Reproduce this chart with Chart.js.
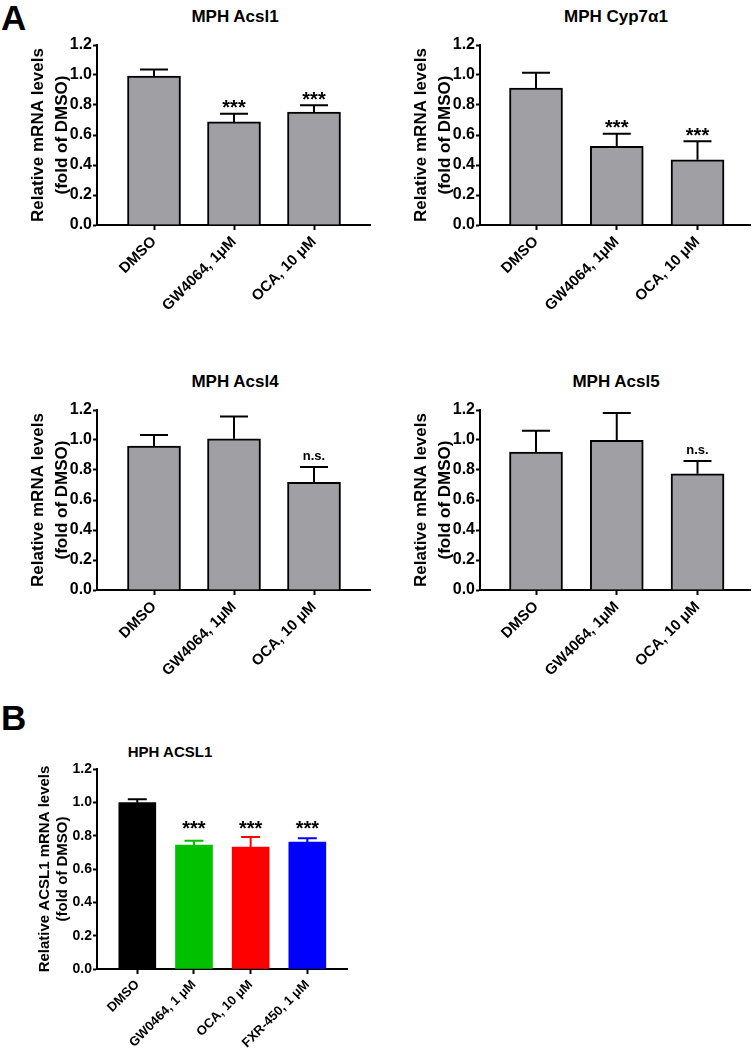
<!DOCTYPE html>
<html>
<head>
<meta charset="utf-8">
<script src="https://cdn.jsdelivr.net/npm/chart.js@4.4.1/dist/chart.umd.min.js"></script>
<style>
body{margin:0;background:#fff;}
#page{position:relative;width:752px;height:1050px;overflow:hidden;font-family:'Liberation Sans',Arial,sans-serif;color:#000;}
canvas{position:absolute;}
.ttl{position:absolute;transform:translate(-50%,-50%);font-weight:bold;white-space:nowrap;}
.panel{position:absolute;font-weight:bold;font-size:35px;line-height:1;}
</style>
</head>
<body>
<div id="page">
  <div class="panel" style="left:1px;top:0px">A</div>
  <div class="panel" style="left:1px;top:700px">B</div>
  <div class="ttl" style="left:235px;top:17px;font-size:17px">MPH Acsl1</div>
  <div class="ttl" style="left:616px;top:17px;font-size:17px">MPH Cyp7α1</div>
  <div class="ttl" style="left:235px;top:382px;font-size:17px">MPH Acsl4</div>
  <div class="ttl" style="left:616px;top:382px;font-size:17px">MPH Acsl5</div>
  <div class="ttl" style="left:170px;top:751px;font-size:15px">HPH ACSL1</div>
  <canvas id="acsl1" width="372" height="300" style="left:0;top:30px"></canvas>
  <canvas id="cyp7a1" width="369" height="300" style="left:383px;top:30px"></canvas>
  <canvas id="acsl4" width="372" height="300" style="left:0;top:395px"></canvas>
  <canvas id="acsl5" width="369" height="300" style="left:383px;top:395px"></canvas>
  <canvas id="hph" width="350" height="295" style="left:0;top:755px"></canvas>
</div>
<script>
// mouse primary hepatocytes (panel A)
const groupsA = ['DMSO', 'GW4064, 1μM', 'OCA, 10 μM'];
const acsl1Mean = [0.993, 0.687, 0.753];
const acsl1Err = [0.043, 0.055, 0.045];
const acsl1Sig = ['', '***', '***'];
const cyp7a1Mean = [0.913, 0.524, 0.435];
const cyp7a1Err = [0.102, 0.085, 0.123];
const cyp7a1Sig = ['', '***', '***'];
const acsl4Mean = [0.96, 1.008, 0.717];
const acsl4Err = [0.073, 0.149, 0.103];
const acsl4Sig = ['', '', 'n.s.'];
const acsl5Mean = [0.92, 0.997, 0.775];
const acsl5Err = [0.142, 0.183, 0.085];
const acsl5Sig = ['', '', 'n.s.'];

// human primary hepatocytes (panel B)
const groupsB = ['DMSO', 'GW0464, 1 μM', 'OCA, 10 μM', 'FXR-450, 1 μM'];
const hphMean = [0.998, 0.744, 0.732, 0.762];
const hphErr = [0.02, 0.026, 0.06, 0.022];
const hphSig = ['', '***', '***', '***'];

const yTicks = [0, 0.2, 0.4, 0.6, 0.8, 1.0, 1.2];

const FONT = "'Liberation Sans', Arial, sans-serif";
const GREY = '#a09fa4';

// upper error bars + significance marks
const errBars = {
  id: 'errbars',
  afterDatasetsDraw(chart, args, opts) {
    const {ctx} = chart;
    const x = chart.scales.x, y = chart.scales.y;
    const pts = chart.data.datasets[0].data;
    ctx.save();
    ctx.lineWidth = opts.lineWidth;
    ctx.lineCap = 'butt';
    pts.forEach((p, i) => {
      const px = x.getPixelForValue(p.x);
      const y0 = y.getPixelForValue(p.y);
      const y1 = y.getPixelForValue(p.y + opts.err[i]);
      ctx.strokeStyle = opts.colors[i];
      ctx.beginPath();
      ctx.moveTo(px, y0);
      ctx.lineTo(px, y1);
      ctx.moveTo(px - opts.cap / 2, y1);
      ctx.lineTo(px + opts.cap / 2, y1);
      ctx.stroke();

      const s = opts.sig[i];
      if (!s) return;
      const cy = opts.sigLevel != null ? y.getPixelForValue(opts.sigLevel) : y1 - opts.sigGap;
      ctx.fillStyle = '#000';
      ctx.textAlign = 'center';
      ctx.textBaseline = 'alphabetic';
      if (s === 'n.s.') {
        ctx.font = 'bold 13px ' + FONT;
        ctx.fillText(s, px, cy + 13 * 0.27);
      } else {
        ctx.font = 'bold 20px ' + FONT;
        ctx.fillText(s, px, cy + 20 * 0.575);
      }
    });
    ctx.restore();
  }
};

function makeChart(id, o) {
  const ctx = document.getElementById(id).getContext('2d');
  return new Chart(ctx, {
    type: 'bar',
    data: {
      datasets: [{
        data: o.mean.map((v, i) => ({x: i, y: v})),
        backgroundColor: o.fill,
        borderColor: o.border,
        borderWidth: o.borderWidth,
        barThickness: o.barW
      }]
    },
    options: {
      responsive: false,
      animation: false,
      devicePixelRatio: 1,
      layout: {padding: {top: o.padTop, right: o.padRight, left: 0, bottom: 0}},
      plugins: {
        legend: {display: false},
        tooltip: {enabled: false},
        errbars: {err: o.err, sig: o.sig, colors: o.errColors, cap: o.cap, lineWidth: 2,
                  sigGap: 11, sigLevel: o.sigLevel}
      },
      scales: {
        x: {
          type: 'linear', min: o.xMin, max: o.xMax, offset: false,
          afterBuildTicks: s => { s.ticks = o.labels.map((_, i) => ({value: i})); },
          afterFit: s => { s.height = o.xH; },
          border: {color: '#000', width: 2},
          grid: {offset: false, drawOnChartArea: false, drawTicks: true, tickLength: 5, tickColor: '#000', tickWidth: 2},
          ticks: {
            autoSkip: false, maxRotation: 45, minRotation: 45, padding: 3, color: '#000',
            font: {family: FONT, size: o.xTickSize, weight: 'bold'},
            callback: v => o.labels[v] || ''
          }
        },
        y: {
          min: 0, max: 1.2,
          afterBuildTicks: s => { s.ticks = yTicks.map(v => ({value: v})); },
          afterFit: s => { s.width = 97; },
          border: {color: '#000', width: 2},
          grid: {drawOnChartArea: false, drawTicks: true, tickLength: 4, tickColor: '#000', tickWidth: 2},
          ticks: {
            padding: 1, color: '#000',
            font: {family: FONT, size: o.yTickSize, weight: 'bold'},
            callback: v => v.toFixed(1)
          },
          title: {
            display: true, text: o.yTitle, color: '#000',
            font: {family: FONT, size: o.yTitleSize, weight: 'bold', lineHeight: o.yTitleLH},
            padding: {top: o.yTitlePad, bottom: 0}
          }
        }
      }
    },
    plugins: [errBars]
  });
}

const baseA = {
  labels: groupsA,
  fill: GREY, border: '#000', borderWidth: 2, barW: 53,
  errColors: ['#000', '#000', '#000'], cap: 28,
  padTop: 15, xH: 105,
  xTickSize: 15, yTickSize: 16,
  yTitle: ['Relative mRNA levels', '(fold of DMSO)'],
  yTitleSize: 17, yTitleLH: 24.5 / 17, yTitlePad: 26
};
const leftA = {xMin: -0.7125, xMax: 2.7, padRight: 2};
const rightA = {xMin: -0.6935, xMax: 2.65, padRight: 2};

makeChart('acsl1', Object.assign({}, baseA, leftA, {mean: acsl1Mean, err: acsl1Err, sig: acsl1Sig}));
makeChart('cyp7a1', Object.assign({}, baseA, rightA, {mean: cyp7a1Mean, err: cyp7a1Err, sig: cyp7a1Sig}));
makeChart('acsl4', Object.assign({}, baseA, leftA, {mean: acsl4Mean, err: acsl4Err, sig: acsl4Sig}));
makeChart('acsl5', Object.assign({}, baseA, rightA, {mean: acsl5Mean, err: acsl5Err, sig: acsl5Sig}));

const colorsB = ['#000000', '#00c000', '#ff0000', '#0000ff'];
makeChart('hph', {
  labels: groupsB, mean: hphMean, err: hphErr, sig: hphSig,
  fill: colorsB, border: colorsB, borderWidth: 0, barW: 37,
  errColors: colorsB, cap: 19, sigLevel: 0.876,
  xMin: -0.711, xMax: 3.70, padTop: 14, padRight: 3, xH: 81,
  xTickSize: 13, yTickSize: 14,
  yTitle: ['Relative ACSL1 mRNA levels', '(fold of DMSO)'],
  yTitleSize: 15, yTitleLH: 18 / 15, yTitlePad: 35.5
});
</script>
</body>
</html>
